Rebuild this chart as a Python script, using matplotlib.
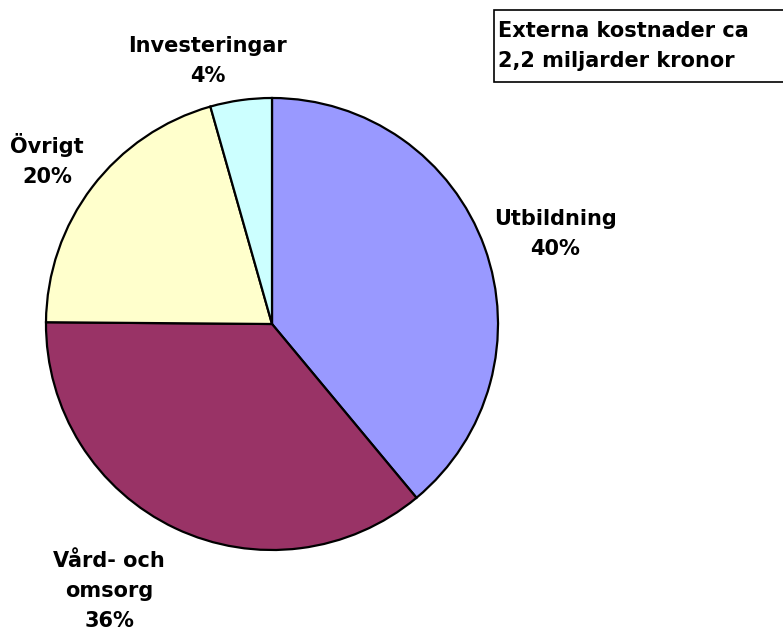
import matplotlib
matplotlib.use("Agg")
import matplotlib.pyplot as plt
from matplotlib.patches import Rectangle

# ==== DATA ====
categories = ["Utbildning", "Vård- och\nomsorg", "Övrigt", "Investeringar"]
shares = [39.0, 36.2, 20.5, 4.4]
pct_labels = ["40%", "36%", "20%", "4%"]   # as printed on the chart
colors = ["#9999FF", "#993366", "#FFFFCC", "#CCFFFF"]
note = "Externa kostnader ca\n2,2 miljarder kronor"

W, H = 783, 633
fig = plt.figure(figsize=(W / 100, H / 100), dpi=100)
ax = fig.add_axes([0, 0, 1, 1])

ax.pie(
    shares,
    colors=colors,
    startangle=90,
    counterclock=False,
    center=(272, H - 324),
    radius=226,
    frame=True,
    wedgeprops=dict(edgecolor="black", linewidth=1.6),
)
ax.set_xlim(0, W)
ax.set_ylim(0, H)
ax.set_aspect("equal")
ax.axis("off")

# label positions (pixel coords from top-left)
label_pos = [(555, 234), (109, 591), (47, 160), (208, 61)]
for cat, pct, (x, y) in zip(categories, pct_labels, label_pos):
    ax.text(x, H - y, f"{cat}\n{pct}", ha="center", va="center",
            fontsize=15, fontweight="bold", linespacing=1.6)

# note box
ax.add_patch(Rectangle((494, H - 82), 295, 72, facecolor="white",
                       edgecolor="black", linewidth=1.2))
ax.text(498, H - 46, note, ha="left", va="center", fontsize=15,
        fontweight="bold", linespacing=1.6)

fig.savefig("out.png", dpi=100)
